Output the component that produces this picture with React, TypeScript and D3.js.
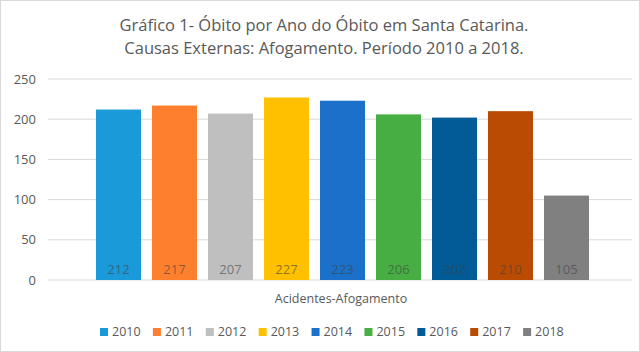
import React from "react";
import * as d3 from "d3";

const years = ["2010", "2011", "2012", "2013", "2014", "2015", "2016", "2017", "2018"];
const values = [212, 217, 207, 227, 223, 206, 202, 210, 105];
const colors = ["#1b9ad9", "#fe7f2d", "#bfbfbf", "#ffc000", "#1b70c9", "#47ae43", "#015b96", "#b94c02", "#808080"];
const yTicks = [0, 50, 100, 150, 200, 250];
const titleLines = [
  "Gráfico 1- Óbito por Ano do Óbito em Santa Catarina.",
  "Causas Externas: Afogamento. Período 2010 a 2018.",
];
const categoryLabel = "Acidentes-Afogamento";

const W = 640;
const H = 352;
const FONT = "'Open Sans', 'Noto Sans', sans-serif";

export default function App() {
  const y = d3.scaleLinear().domain([0, 250]).range([280, 79]);
  const x = d3
    .scaleBand<string>()
    .domain(years)
    .range([90.5, 594.5])
    .paddingInner(0.196)
    .paddingOuter(0.098);
  const legendX = d3.scaleBand<string>().domain(years).range([100, 576]);

  return (
    <svg width={W} height={H} style={{ position: "absolute", left: 0, top: 0 }}>
      <rect x={0.5} y={0.5} width={W - 1} height={H - 1} fill="#fff" stroke="#d9d9d9" />
      {titleLines.map((t, i) => (
        <text
          key={i}
          x={324}
          y={31 + i * 22.5}
          textAnchor="middle"
          fontFamily={FONT}
          fontSize={16.5}
          fill="#595959"
        >
          {t}
        </text>
      ))}
      {yTicks.map((t) => (
        <g key={t}>
          <line x1={48} x2={632} y1={y(t)} y2={y(t)} stroke="#d9d9d9" strokeWidth={1} />
          <text
            x={36}
            y={y(t)}
            dy="0.35em"
            textAnchor="end"
            fontFamily={FONT}
            fontSize={13}
            fill="#595959"
          >
            {t}
          </text>
        </g>
      ))}
      {years.map((yr, i) => (
        <g key={yr}>
          <rect
            x={x(yr)}
            y={y(values[i])}
            width={x.bandwidth()}
            height={y(0) - y(values[i])}
            fill={colors[i]}
          />
          <text
            x={(x(yr) as number) + x.bandwidth() / 2}
            y={274}
            textAnchor="middle"
            fontFamily={FONT}
            fontSize={13}
            fill="#404040"
            fillOpacity={0.6}
          >
            {values[i]}
          </text>
        </g>
      ))}
      <text
        x={341}
        y={303}
        textAnchor="middle"
        fontFamily={FONT}
        fontSize={12.5}
        fill="#595959"
      >
        {categoryLabel}
      </text>
      {years.map((yr, i) => (
        <g key={"lg" + yr} transform={`translate(${legendX(yr)},0)`}>
          <rect x={0} y={328} width={8} height={8} fill={colors[i]} />
          <text x={12} y={336} fontFamily={FONT} fontSize={12.5} fill="#595959">
            {yr}
          </text>
        </g>
      ))}
    </svg>
  );
}
